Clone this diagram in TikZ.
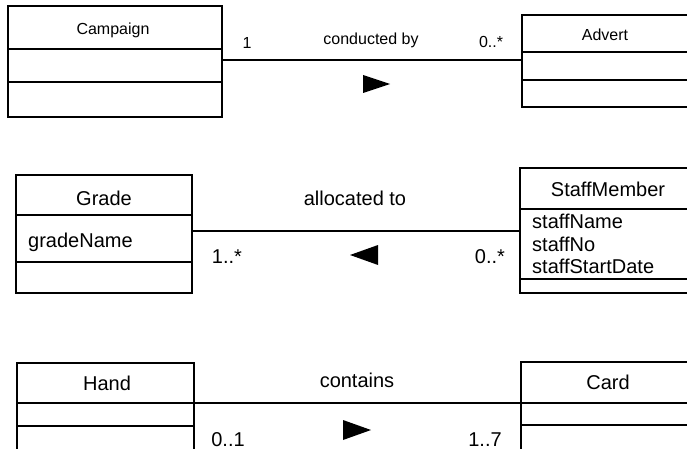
\documentclass[tikz,border=0pt]{standalone}
\usepackage{fontspec}
\setmainfont{Liberation Sans}
\begin{document}
\begin{tikzpicture}[x=1pt,y=-1pt,
  classbox/.style={draw, line width=1.3pt, inner sep=0pt, outer sep=0pt, anchor=north west},
  rule/.style={line width=1.3pt},
  assoc/.style={line width=1.3pt},
  big/.style={font=\fontsize{20}{24}\selectfont, inner sep=0pt, anchor=base},
  small/.style={font=\fontsize{16}{19}\selectfont, inner sep=0pt, anchor=base},
  attr/.style={big, anchor=base west},
  dirmark/.style={fill=black}]
\clip (0,0) rectangle (687,449);

% ---- Campaign / Advert ----
\node[classbox, minimum width=214pt, minimum height=111pt] (campaign) at (8,6) {};
\draw[rule] (campaign.west |- 0,49) -- (campaign.east |- 0,49);
\draw[rule] (campaign.west |- 0,82) -- (campaign.east |- 0,82);
\node[small] (campaignT) at (113,35) {Campaign};

\node[classbox, minimum width=180pt, minimum height=92pt] (advert) at (522,15) {};
\draw[rule] (advert.west |- 0,52) -- (advert.east |- 0,52);
\draw[rule] (advert.west |- 0,80) -- (advert.east |- 0,80);
\node[small] (advertT) at (605,41) {Advert};

\draw[assoc] (campaign.east |- 0,60) -- (advert.west |- 0,60);
\node[small] (m1a) at (247,49) {1};
\node[small] (lab1) at (371,45) {conducted by};
\node[small] (m1b) at (491,48) {0..*};
\fill[dirmark] (363,75) -- (363,93) -- (390,84) -- cycle;

% ---- Grade / StaffMember ----
\node[classbox, minimum width=176pt, minimum height=118pt] (grade) at (16,175) {};
\draw[rule] (grade.west |- 0,215) -- (grade.east |- 0,215);
\draw[rule] (grade.west |- 0,262) -- (grade.east |- 0,262);
\node[big] (gradeT) at (104,205) {Grade};
\node[attr] (gradeA) at (28,247) {gradeName};

\node[classbox, minimum width=182pt, minimum height=125pt] (staff) at (520,168) {};
\draw[rule] (staff.west |- 0,209) -- (staff.east |- 0,209);
\draw[rule] (staff.west |- 0,279) -- (staff.east |- 0,279);
\node[big] (staffT) at (608,196) {StaffMember};
\node[attr] (staffA1) at (532,228) {staffName};
\node[attr] (staffA2) at (532,251) {staffNo};
\node[attr] (staffA3) at (532,273) {staffStartDate};

\draw[assoc] (grade.east |- 0,231) -- (staff.west |- 0,231);
\node[big] (lab2) at (355,205) {allocated to};
\node[big] (m2a) at (227,263) {1..*};
\node[big] (m2b) at (490,263) {0..*};
\fill[dirmark] (378,245) -- (378,265) -- (350,255) -- cycle;

% ---- Hand / Card ----
\node[classbox, minimum width=177pt, minimum height=95pt] (hand) at (17,363) {};
\draw[rule] (hand.west |- 0,403) -- (hand.east |- 0,403);
\draw[rule] (hand.west |- 0,426) -- (hand.east |- 0,426);
\node[big] (handT) at (107,390) {Hand};

\node[classbox, minimum width=181pt, minimum height=96pt] (card) at (521,362) {};
\draw[rule] (card.west |- 0,403) -- (card.east |- 0,403);
\draw[rule] (card.west |- 0,425) -- (card.east |- 0,425);
\node[big] (cardT) at (608,389) {Card};

\draw[assoc] (hand.east |- 0,403) -- (card.west |- 0,403);
\node[big] (lab3) at (357,387) {contains};
\node[big] (m3a) at (228,446) {0..1};
\node[big] (m3b) at (485,446) {1..7};
\fill[dirmark] (343,420) -- (343,440) -- (371,430) -- cycle;
\end{tikzpicture}
\end{document}
